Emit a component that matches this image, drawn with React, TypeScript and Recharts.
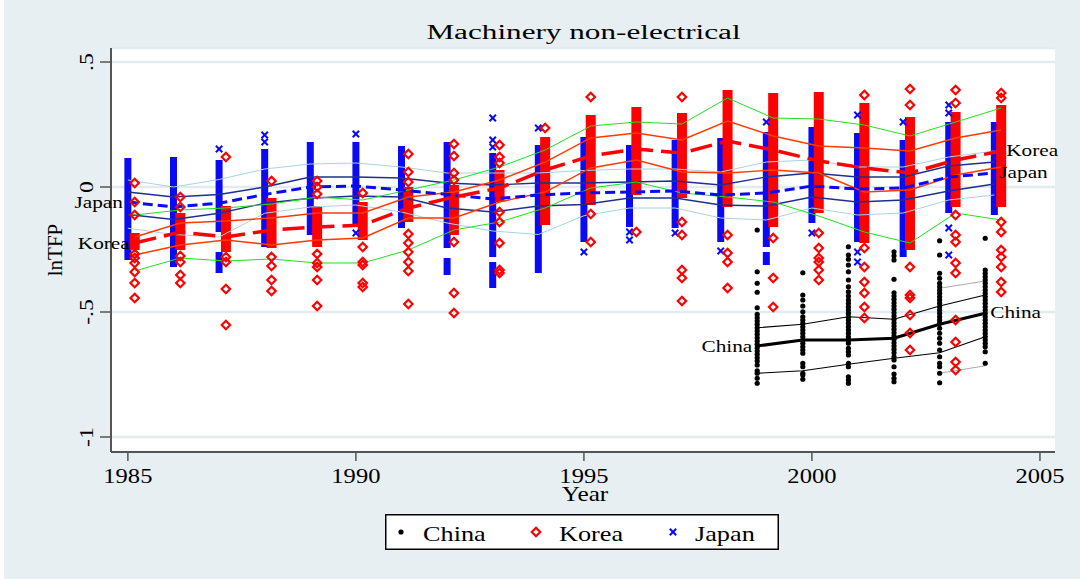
import React from 'react';
import {
  ComposedChart,
  Scatter,
  Line,
  XAxis,
  YAxis,
  CartesianGrid,
  ErrorBar,
  LabelList,
} from 'recharts';

// years on the x axis
const years = [1985, 1986, 1987, 1988, 1989, 1990, 1991, 1992, 1993, 1994, 1995, 1996, 1997, 1998, 1999, 2000, 2001, 2002, 2003, 2004];
const chinaYears = [1999, 2000, 2001, 2002, 2003, 2004];

const xTicks = [1985, 1990, 1995, 2000, 2005];
const yTicks = [-1, -0.5, 0, 0.5];
const yTickLabels = ['-1', '-.5', '0', '.5'];

// Japan percentile lines (p90 / p75 / median / p25 / p10)
const japanP90 = [0.028, 0.0, 0.03, 0.072, 0.092, 0.096, 0.08, 0.056, 0.056, 0.056, 0.066, 0.072, 0.072, 0.06, 0.1, 0.108, 0.08, 0.08, 0.12, 0.144];
const japanP75 = [-0.02, -0.04, -0.03, 0.0, 0.04, 0.04, 0.036, 0.016, 0.008, 0.016, 0.016, 0.02, 0.024, 0.008, 0.04, 0.056, 0.04, 0.04, 0.084, 0.1];
const japanP50 = [-0.06, -0.08, -0.065, -0.03, 0.0, 0.004, -0.012, -0.03, -0.048, -0.032, -0.024, -0.02, -0.016, -0.032, -0.024, 0.004, -0.008, -0.004, 0.04, 0.056];
const japanP25 = [-0.11, -0.13, -0.105, -0.065, -0.045, -0.036, -0.04, -0.084, -0.1, -0.076, -0.07, -0.044, -0.044, -0.072, -0.076, -0.04, -0.06, -0.052, -0.016, 0.012];
const japanP10 = [-0.165, -0.19, -0.2, -0.105, -0.08, -0.072, -0.1, -0.144, -0.176, -0.19, -0.115, -0.084, -0.084, -0.124, -0.132, -0.084, -0.112, -0.104, -0.052, -0.032];

// Korea percentile lines
const koreaP90 = [-0.112, -0.092, -0.084, -0.068, -0.04, -0.052, -0.012, 0.028, 0.08, 0.148, 0.244, 0.26, 0.252, 0.356, 0.276, 0.272, 0.248, 0.204, 0.26, 0.316];
const koreaP75 = [-0.2, -0.144, -0.136, -0.124, -0.104, -0.104, -0.04, -0.02, 0.028, 0.1, 0.196, 0.216, 0.188, 0.264, 0.204, 0.164, 0.156, 0.144, 0.196, 0.228];
const koreaP50 = [-0.224, -0.18, -0.2, -0.172, -0.16, -0.152, -0.084, -0.04, -0.004, 0.068, 0.124, 0.152, 0.136, 0.184, 0.148, 0.104, 0.076, 0.056, 0.108, 0.144];
const koreaP25 = [-0.272, -0.232, -0.212, -0.232, -0.212, -0.204, -0.124, -0.124, -0.06, -0.02, 0.076, 0.108, 0.06, 0.056, 0.068, 0.056, -0.02, -0.012, 0.048, 0.08];
const koreaP10 = [-0.336, -0.284, -0.296, -0.288, -0.304, -0.304, -0.252, -0.172, -0.14, -0.084, -0.004, 0.02, -0.024, -0.04, -0.06, -0.116, -0.18, -0.224, -0.104, -0.132];

// China percentile lines (outer ones only drawn for the last two years)
const chinaP90 = [null, null, null, null, -0.405, -0.376];
const chinaP75 = [-0.563, -0.549, -0.519, -0.529, -0.476, -0.432];
const chinaP50 = [-0.636, -0.612, -0.612, -0.605, -0.549, -0.505];
const chinaP25 = [-0.745, -0.735, -0.709, -0.685, -0.663, -0.599];
const chinaP10 = [null, null, null, null, -0.745, -0.715];

// dense runs of firm observations [low, high] and the loose ones
const japanCores = [
  [[-0.292, 0.116]], [[-0.32, 0.12]], [[-0.18, 0.108], [-0.344, -0.26]], [[-0.24, 0.152]], [[-0.192, 0.18]],
  [[-0.16, 0.18]], [[-0.164, 0.164]], [[-0.244, 0.18], [-0.352, -0.284]], [[-0.28, 0.136], [-0.404, -0.3]], [[-0.344, 0.168]],
  [[-0.22, 0.2]], [[-0.16, 0.168]], [[-0.164, 0.188]], [[-0.22, 0.196]], [[-0.24, 0.22], [-0.312, -0.26]],
  [[-0.144, 0.24]], [[-0.22, 0.216]], [[-0.28, 0.188]], [[-0.104, 0.26]], [[-0.112, 0.26]],
];
const japanOutliers = [
  [], [], [0.152], [0.208, 0.18], [],
  [0.212, -0.184], [], [], [0.276, 0.188, 0.16], [0.236],
  [-0.26], [-0.18, -0.212], [-0.184], [-0.256], [0.26],
  [-0.184], [0.288, -0.26, -0.3], [0.26], [0.328, 0.296, -0.164, -0.272], [],
];

const koreaCores = [
  [-0.252, -0.184], [-0.252, -0.104], [-0.26, -0.076], [-0.244, -0.044], [-0.24, -0.076],
  [-0.212, -0.06], [-0.14, 0.0], [-0.192, 0.008], [-0.06, 0.068], [-0.152, 0.2],
  [-0.072, 0.288], [-0.032, 0.32], [-0.044, 0.296], [-0.08, 0.388], [-0.16, 0.376],
  [-0.104, 0.38], [-0.224, 0.336], [-0.252, 0.28], [-0.08, 0.3], [-0.08, 0.328],
];
const koreaOutliers = [
  [0.016, -0.06, -0.112, -0.268, -0.284, -0.304, -0.34, -0.384, -0.444],
  [-0.04, -0.08, -0.276, -0.3, -0.352, -0.384],
  [0.12, -0.28, -0.3, -0.408, -0.552],
  [0.024, -0.28, -0.316, -0.372, -0.416],
  [0.024, 0.0, -0.028, -0.268, -0.304, -0.32, -0.372, -0.476],
  [-0.024, -0.24, -0.3, -0.312, -0.384, -0.4],
  [0.132, 0.06, 0.02, -0.188, -0.224, -0.26, -0.3, -0.336, -0.468],
  [0.172, 0.124, 0.056, 0.028, -0.22, -0.424, -0.504],
  [0.168, 0.12, 0.096, -0.1, -0.14, -0.224, -0.332, -0.344],
  [0.236],
  [0.36, -0.108, -0.22],
  [-0.18],
  [0.36, -0.14, -0.192, -0.332, -0.364, -0.456],
  [-0.192, -0.264, -0.3, -0.404],
  [-0.204, -0.364, -0.48],
  [-0.184, -0.244, -0.284, -0.3, -0.332, -0.372],
  [0.368, -0.244, -0.32, -0.38, -0.424, -0.48, -0.524],
  [0.392, 0.328, -0.32, -0.432, -0.444, -0.512, -0.584, -0.652],
  [0.388, 0.336, -0.112, -0.192, -0.22, -0.304, -0.344, -0.532, -0.62, -0.7, -0.732],
  [0.376, 0.356, -0.14, -0.18, -0.252, -0.28, -0.32, -0.38, -0.42],
];

const chinaPoints = [
  [-0.172, -0.339, -0.385, -0.421, -0.483, -0.509, -0.523, -0.536, -0.549, -0.563, -0.576, -0.589, -0.603, -0.616, -0.629, -0.643, -0.656, -0.669, -0.683, -0.696, -0.712, -0.735, -0.745, -0.765, -0.785],
  [-0.343, -0.432, -0.452, -0.476, -0.499, -0.519, -0.532, -0.545, -0.559, -0.572, -0.585, -0.599, -0.612, -0.625, -0.639, -0.652, -0.665, -0.705, -0.719, -0.745, -0.752, -0.769],
  [-0.239, -0.272, -0.289, -0.312, -0.339, -0.372, -0.399, -0.419, -0.436, -0.452, -0.465, -0.479, -0.492, -0.505, -0.519, -0.532, -0.545, -0.559, -0.572, -0.585, -0.599, -0.612, -0.625, -0.645, -0.659, -0.672, -0.705, -0.719, -0.759, -0.772, -0.785],
  [-0.259, -0.275, -0.292, -0.369, -0.423, -0.436, -0.449, -0.463, -0.476, -0.489, -0.503, -0.516, -0.529, -0.543, -0.556, -0.569, -0.583, -0.596, -0.609, -0.623, -0.636, -0.649, -0.663, -0.679, -0.692, -0.719, -0.748, -0.765, -0.779],
  [-0.215, -0.272, -0.345, -0.365, -0.385, -0.399, -0.412, -0.425, -0.439, -0.452, -0.465, -0.479, -0.492, -0.505, -0.519, -0.532, -0.545, -0.565, -0.585, -0.605, -0.625, -0.652, -0.679, -0.705, -0.719, -0.745, -0.783],
  [-0.205, -0.332, -0.345, -0.359, -0.372, -0.385, -0.399, -0.412, -0.425, -0.439, -0.452, -0.465, -0.479, -0.492, -0.505, -0.519, -0.532, -0.545, -0.559, -0.572, -0.585, -0.599, -0.612, -0.625, -0.639, -0.659, -0.705],
];

const legendItems = ['China', 'Korea', 'Japan'];

// Stata shifts each country a little along the year axis
const KOREA_SHIFT = 0.15;
const CHINA_SHIFT = -0.2;

const JAPAN = '#0a0af5';
const KOREA = '#ff0000';
const SERIF = '"Liberation Serif", "DejaVu Serif", serif';
const BG = '#e8eff2';
const AXIS = '#555';

// text drawn a bit wider, like the Stata export
function WideText({ x, y, size, sx, anchor = 'start', rotate = 0, children }: any) {
  return (
    <text
      transform={`translate(${x} ${y}) rotate(${rotate}) scale(${sx} 1)`}
      textAnchor={anchor}
      fontFamily={SERIF}
      fontSize={size}
      fill="#000"
    >
      {children}
    </text>
  );
}

const JapanMark = (p: any) => {
  const s = 3.2;
  return (
    <g stroke={JAPAN} strokeWidth={2}>
      <line x1={p.cx - s} y1={p.cy - s} x2={p.cx + s} y2={p.cy + s} />
      <line x1={p.cx - s} y1={p.cy + s} x2={p.cx + s} y2={p.cy - s} />
    </g>
  );
};

const KoreaMark = (p: any) => {
  const s = 4.2;
  return (
    <polygon
      points={`${p.cx},${p.cy - s} ${p.cx + s},${p.cy} ${p.cx},${p.cy + s} ${p.cx - s},${p.cy}`}
      fill="none"
      stroke={KOREA}
      strokeWidth={2.2}
    />
  );
};

const ChinaMark = (p: any) => <circle cx={p.cx} cy={p.cy} r={2.6} fill="#000" />;

const NoMark = () => <g />;

function XTick({ x, y, payload }: any) {
  return <WideText x={x} y={y + 22} size={21} sx={1.17} anchor="middle">{payload.value}</WideText>;
}

function YTick({ x, y, payload }: any) {
  const label = yTickLabels[yTicks.indexOf(payload.value)];
  return <WideText x={x - 7} y={y} size={19} sx={1.25} anchor="middle" rotate={-90}>{label}</WideText>;
}

function edgeLabel(name: string, last: number) {
  return (p: any) => {
    if (p.index === 0) {
      return <WideText key={name + 'l'} x={p.x - 5} y={p.y + 6} size={17} sx={1.25} anchor="end">{name}</WideText>;
    }
    if (p.index === last) {
      return <WideText key={name + 'r'} x={p.x + 5} y={p.y + 5} size={17} sx={1.25}>{name}</WideText>;
    }
    return null;
  };
}

function toLine(xs: number[], vals: (number | null)[], shift: number) {
  return xs
    .map((yr, i) => ({ x: yr + shift, y: vals[i] }))
    .filter((d) => d.y !== null);
}

export default function App() {
  const japanCoreData = years.flatMap((yr, i) =>
    japanCores[i].map(([lo, hi]) => ({ x: yr, y: (lo + hi) / 2, err: [(hi - lo) / 2, (hi - lo) / 2] }))
  );
  const japanPts = years.flatMap((yr, i) => japanOutliers[i].map((v) => ({ x: yr, y: v })));
  const koreaCoreData = years.map((yr, i) => {
    const [lo, hi] = koreaCores[i];
    return { x: yr + KOREA_SHIFT, y: (lo + hi) / 2, err: [(hi - lo) / 2, (hi - lo) / 2] };
  });
  const koreaPts = years.flatMap((yr, i) => koreaOutliers[i].map((v) => ({ x: yr + KOREA_SHIFT, y: v })));
  const chinaPts = chinaYears.flatMap((yr, i) => chinaPoints[i].map((v) => ({ x: yr + CHINA_SHIFT, y: v })));

  const lines = [
    { id: 'j90', data: toLine(years, japanP90, 0), stroke: '#a9d2e3', w: 1 },
    { id: 'j10', data: toLine(years, japanP10, 0), stroke: '#a9d2e3', w: 1 },
    { id: 'j75', data: toLine(years, japanP75, 0), stroke: '#1f2f8f', w: 1.4 },
    { id: 'j25', data: toLine(years, japanP25, 0), stroke: '#1f2f8f', w: 1.4 },
    { id: 'k90', data: toLine(years, koreaP90, KOREA_SHIFT), stroke: '#1fe01f', w: 1 },
    { id: 'k10', data: toLine(years, koreaP10, KOREA_SHIFT), stroke: '#1fe01f', w: 1 },
    { id: 'k75', data: toLine(years, koreaP75, KOREA_SHIFT), stroke: '#ff3a00', w: 1.4 },
    { id: 'k25', data: toLine(years, koreaP25, KOREA_SHIFT), stroke: '#ff3a00', w: 1.4 },
    { id: 'c90', data: toLine(chinaYears, chinaP90, CHINA_SHIFT), stroke: '#aaaaaa', w: 1 },
    { id: 'c10', data: toLine(chinaYears, chinaP10, CHINA_SHIFT), stroke: '#aaaaaa', w: 1 },
    { id: 'c75', data: toLine(chinaYears, chinaP75, CHINA_SHIFT), stroke: '#000', w: 1.2 },
    { id: 'c25', data: toLine(chinaYears, chinaP25, CHINA_SHIFT), stroke: '#000', w: 1.2 },
  ];

  const japanMed = toLine(years, japanP50, 0);
  const koreaMed = toLine(years, koreaP50, KOREA_SHIFT);
  const chinaMed = toLine(chinaYears, chinaP50, CHINA_SHIFT);

  const legendMarks = [
    <circle cx={16} cy={18} r={2.6} fill="#000" />,
    <KoreaMark cx={151} cy={18} />,
    <JapanMark cx={288} cy={18} />,
  ];
  const legendTextX = [38, 174, 310];

  return (
    <div style={{ position: 'absolute', left: 0, top: 0, width: 1080, height: 579, background: '#fff' }}>
      <div style={{ position: 'absolute', left: 4, top: 0 }}>
        <ComposedChart
          width={1076}
          height={579}
          margin={{ top: 48, right: 25, bottom: 87, left: 47 }}
          style={{ background: BG }}
        >
          <CartesianGrid vertical={false} fill="#fff" stroke="#e2ebee" strokeWidth={2.5} />
          <XAxis
            type="number"
            dataKey="x"
            domain={[1984.63, 2005.33]}
            ticks={xTicks}
            allowDataOverflow
            height={40}
            tickSize={9}
            tickMargin={0}
            axisLine={{ stroke: AXIS, strokeWidth: 2 }}
            tickLine={{ stroke: AXIS, strokeWidth: 1.5 }}
            tick={XTick}
          />
          <YAxis
            type="number"
            dataKey="y"
            domain={[-1.06, 0.556]}
            ticks={yTicks}
            allowDataOverflow
            width={60}
            tickSize={11}
            tickMargin={0}
            axisLine={{ stroke: AXIS, strokeWidth: 2 }}
            tickLine={{ stroke: AXIS, strokeWidth: 1.5 }}
            tick={YTick}
          />

          {/* firm observations */}
          <Scatter data={japanCoreData} shape={NoMark} isAnimationActive={false}>
            <ErrorBar dataKey="err" direction="y" width={0} stroke={JAPAN} strokeWidth={7} isAnimationActive={false} />
          </Scatter>
          <Scatter data={japanPts} shape={JapanMark} isAnimationActive={false} />
          <Scatter data={koreaCoreData} shape={NoMark} isAnimationActive={false}>
            <ErrorBar dataKey="err" direction="y" width={0} stroke={KOREA} strokeWidth={10} isAnimationActive={false} />
          </Scatter>
          <Scatter data={koreaPts} shape={KoreaMark} isAnimationActive={false} />
          <Scatter data={chinaPts} shape={ChinaMark} isAnimationActive={false} />

          {/* percentile lines */}
          {lines.map((l) => (
            <Line
              key={l.id}
              data={l.data}
              dataKey="y"
              type="linear"
              stroke={l.stroke}
              strokeWidth={l.w}
              dot={false}
              activeDot={false}
              isAnimationActive={false}
            />
          ))}
          <Line data={japanMed} dataKey="y" type="linear" stroke={JAPAN} strokeWidth={3} strokeDasharray="10 5" dot={false} activeDot={false} isAnimationActive={false}>
            <LabelList dataKey="y" content={edgeLabel('Japan', japanMed.length - 1)} />
          </Line>
          <Line data={koreaMed} dataKey="y" type="linear" stroke={KOREA} strokeWidth={3.5} strokeDasharray="22 8" dot={false} activeDot={false} isAnimationActive={false}>
            <LabelList dataKey="y" content={edgeLabel('Korea', koreaMed.length - 1)} />
          </Line>
          <Line data={chinaMed} dataKey="y" type="linear" stroke="#000" strokeWidth={3} dot={false} activeDot={false} isAnimationActive={false}>
            <LabelList dataKey="y" content={edgeLabel('China', chinaMed.length - 1)} />
          </Line>

          {/* titles */}
          <WideText x={579.5} y={39} size={20} sx={1.56} anchor="middle">Machinery non-electrical</WideText>
          <WideText x={581} y={501} size={21} sx={1.2} anchor="middle">Year</WideText>
          <WideText x={58} y={250} size={21} sx={1.0} anchor="middle" rotate={-90}>lnTFP</WideText>

          {/* legend */}
          <g transform="translate(381 514)">
            <rect x={0.75} y={0.75} width={392.5} height={34.5} fill="#fff" stroke="#000" strokeWidth={1.5} />
            {legendItems.map((name, i) => (
              <g key={name}>
                {legendMarks[i]}
                <WideText x={legendTextX[i]} y={27} size={21} sx={1.25}>{name}</WideText>
              </g>
            ))}
          </g>
        </ComposedChart>
      </div>
    </div>
  );
}
